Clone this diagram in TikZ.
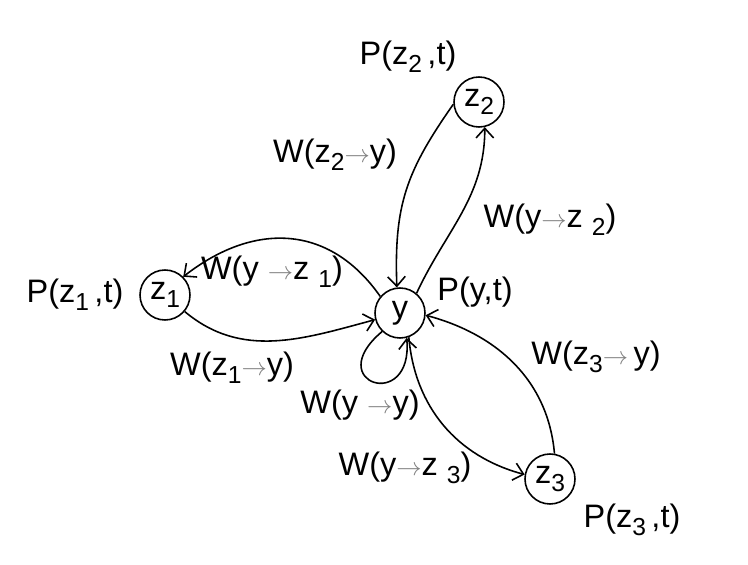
\documentclass[tikz,border=0pt]{standalone}
\usepackage{fontspec}
\setmainfont{Liberation Sans}
\usetikzlibrary{arrows.meta}
\newcommand{\lo}[1]{\raisebox{-4.5pt}{\fontsize{14}{14}\selectfont #1}}
\newcommand{\ar}{{\fontsize{14}{14}\selectfont\color{gray}$\rightarrow$}}

\begin{document}
\begin{tikzpicture}[x=0.02cm,y=0.02cm,line width=0.9pt,>={Straight Barb[length=5.5pt,width=10pt]},
    state/.style={circle,draw,inner sep=0,minimum size=1cm},
    every node/.style={font=\fontsize{18.5}{22}\selectfont}]
    \useasboundingbox (0,0) rectangle (748,565);

    \node[state] (y) at (400,252) {y};
    \node[state] (z1) at (165,270) {z\lo{1}};
    \node[state] (z2) at (479,463) {z\lo{2}};
    \node[state] (z3) at (550,86) {z\lo{3}};

    \node (py) at (475,273) {P(y,t)};
    \node (pz1) at (75,270) {P(z\lo{1}\,,t)};
    \node (pz2) at (408,508) {P(z\lo{2}\,,t)};
    \node (pz3) at (632,45) {P(z\lo{3}\,,t)};

    \draw[->] (z2.185) to[out=235,in=92,looseness=1.1] (y.97);
    \draw[->] (y.50) to[out=65,in=270] (z2.283);
    \draw[->] (y.140) to[out=125,in=38,looseness=1.15] (z1.45);
    \draw[->] (z1.-40) to[out=-40,in=195] (y.195);
    \draw[->] (y.-70) to[out=-85,in=165] (z3.170);
    \draw[->] (z3.80) to[out=95,in=-15] (y.-5);
    \draw[->] (y.226) .. controls +(220:80) and +(275:75) .. (y.285);

    \node (wz2y) at (335,410) {W(z\lo{2}\ar y)};
    \node (wyz2) at (550,345) {W(y\ar z \lo{2})};
    \node (wyz1) at (272,293) {W(y \ar z \lo{1})};
    \node (wz1y) at (232,197) {W(z\lo{1}\ar y)};
    \node (wz3y) at (596,208) {W(z\lo{3}\ar\,y)};
    \node (wyy) at (360,160) {W(y \ar y)};
    \node (wyz3) at (405,97) {W(y\ar z \lo{3})};
\end{tikzpicture}
\end{document}
